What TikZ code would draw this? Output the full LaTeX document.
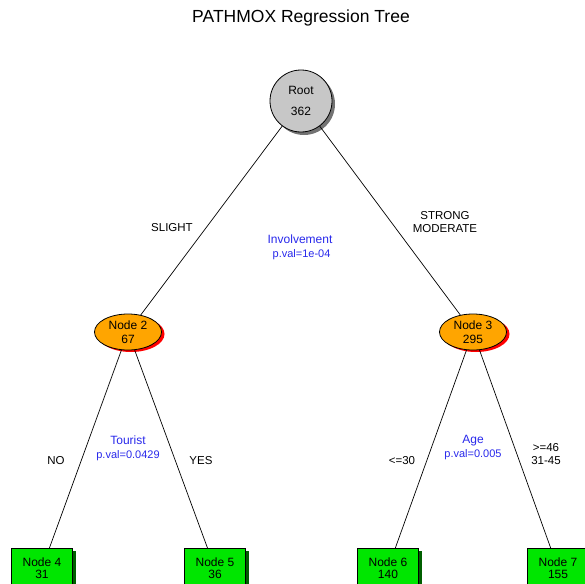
\documentclass[tikz,border=0pt]{standalone}
\usepackage{fontspec}
\setmainfont{Liberation Sans}
\usetikzlibrary{shapes.geometric, shadows}
\definecolor{pvalblue}{RGB}{40,40,235}
\definecolor{splitorange}{RGB}{255,165,0}
\definecolor{leafgreen}{RGB}{0,230,0}
\definecolor{leafshadow}{RGB}{0,95,0}
\newcommand\varname[1]{{\fontsize{12}{13}\selectfont #1}}
\tikzstyle{rootnode} = [circle, draw=black, line width=0.8pt, fill=black!22, minimum size=62pt, inner sep=0pt, align=center, font=\fontsize{12}{21}\selectfont, drop shadow={shadow xshift=3pt, shadow yshift=-3pt, fill=black!55, opacity=1}]
\tikzstyle{splitnode} = [ellipse, draw=black, line width=0.8pt, fill=splitorange, minimum width=67pt, minimum height=36pt, inner sep=0pt, align=center, font=\fontsize{12}{14}\selectfont, drop shadow={shadow xshift=3pt, shadow yshift=-2pt, fill=red, opacity=1}]
\tikzstyle{leafnode} = [rectangle, draw=black, line width=0.8pt, fill=leafgreen, minimum width=61pt, minimum height=40pt, inner sep=0pt, align=center, font=\fontsize{12}{12}\selectfont, drop shadow={shadow xshift=3pt, shadow yshift=-3pt, fill=leafshadow, opacity=1}]
\tikzstyle{edge} = [line width=0.7pt, black]
\tikzstyle{cut} = [font=\fontsize{11.5}{13}\selectfont, align=center]
\tikzstyle{pval} = [font=\fontsize{11}{14}\selectfont, text=pvalblue, align=center]

\begin{document}
\begin{tikzpicture}[x=1pt, y=-1pt]
	    \useasboundingbox (0,0) rectangle (585,583);
	    \clip (0,0) rectangle (585,583);
	    \node[font=\fontsize{17.5}{18}\selectfont] (title) at (301,18) {PATHMOX Regression Tree};

	    \node[rootnode] (root) at (301,101) {Root\\362};
	    \node[splitnode] (n2) at (128,332) {Node 2\\67};
	    \node[splitnode] (n3) at (473,332) {Node 3\\295};

	    \node[leafnode, anchor=north] (n4) at (42,548) {Node 4\\31};
	    \node[leafnode, anchor=north] (n5) at (215,548) {Node 5\\36};
	    \node[leafnode, anchor=north] (n6) at (388,548) {Node 6\\140};
	    \node[leafnode, anchor=north] (n7) at (558,548) {Node 7\\155};

	    \draw[edge] (root) -- (n2);
	    \draw[edge] (root) -- (n3);
	    \draw[edge] (n2) -- (n4);
	    \draw[edge] (n2) -- (n5);
	    \draw[edge] (n3) -- (n6);
	    \draw[edge] (n3) -- (n7);

	    % split labels
	    \node[cut] (slight) at (172,228) {SLIGHT};
	    \node[cut] (strong) at (445,222) {STRONG\\MODERATE};
	    \node[pval] (invol) at (300,247) {\varname{Involvement}\\\ p.val=1e-04};

	    \node[cut] (no) at (56,461) {NO};
	    \node[cut] (yes) at (201,461) {YES};
	    \node[pval] (tourist) at (128,448) {\varname{Tourist}\\p.val=0.0429};

	    \node[cut] (le30) at (402,461) {<=30};
	    \node[cut] (ge46) at (546,454) {>=46\\31-45};
	    \node[pval] (age) at (473,448) {\varname{Age}\\p.val=0.005};
	\end{tikzpicture}
\end{document}
